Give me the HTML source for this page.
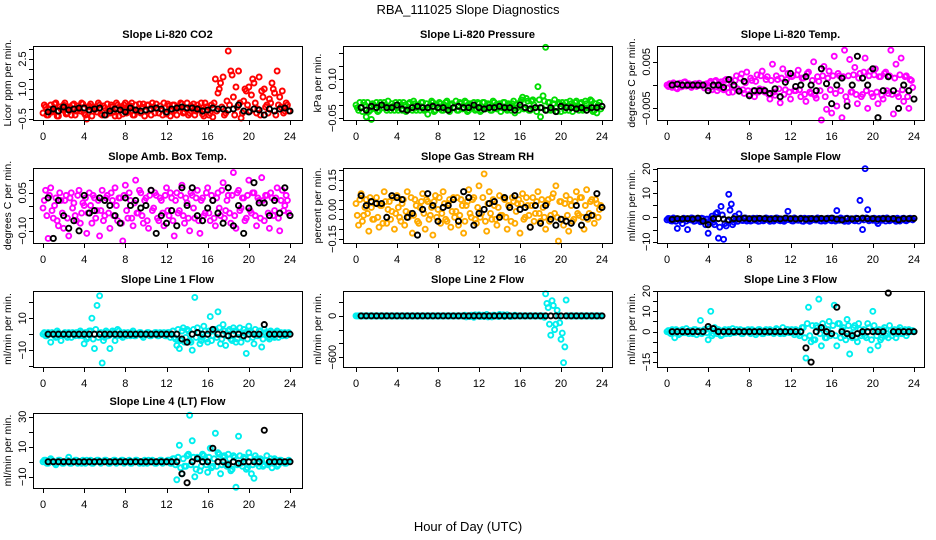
<!DOCTYPE html>
<html><head><meta charset="utf-8"><style>
body{margin:0;background:#fff}
svg{display:block;font-family:"Liberation Sans",sans-serif}
</style></head><body>
<svg id="fig" width="936" height="540" xmlns="http://www.w3.org/2000/svg">
<rect width="936" height="540" fill="#fff"/>
<text x="468" y="14" font-size="13" text-anchor="middle">RBA_111025  Slope Diagnostics</text>
<text x="468" y="531" font-size="13" text-anchor="middle">Hour of Day (UTC)</text>
</svg>
<script>
const xTicks=[0,4,8,12,16,20,24];
const co2Colored=[-0.2,0.1,-0.3,0.2,-0.1,0.3,-0.35,0.0,0.2,-0.25,0.1,-0.3,0.25,-0.1,0.0,0.3,
-0.2,-0.5,0.15,-0.35,0.1,-0.15,0.2,-0.3,0.05,0.25,-0.2,0.1,-0.35,0.2,0.0,-0.25,
0.3,-0.1,0.15,-0.3,0.2,0.0,-0.2,0.25,-0.1,0.2,-0.3,0.1,0.25,-0.2,0.0,0.3,
-0.25,0.15,-0.1,0.2,-0.3,0.05,0.25,-0.15,0.3,-0.2,0.1,-0.3,0.2,0.0,-0.25,0.3,
0.1,-0.2,-0.4,1.5,0.8,1.3,1.6,-0.2,2.9,1.9,0.6,1.1,1.9,-0.45,0.4,0.9,
1.1,0.7,1.3,-0.2,1.6,0.9,1.0,0.2,0.5,1.3,0.8,1.9,0.6,0.9,-0.1,0.2];
const co2Colored2=[0.2,-0.3,0.0,-0.15,0.25,-0.35,0.1,-0.05,0.3,-0.2,0.05,0.2,-0.3,0.15,-0.1,0.25,
-0.3,0.1,0.25,-0.1,0.0,0.3,-0.25,0.15,-0.3,0.0,0.2,-0.15,0.3,-0.35,0.1,0.2,
-0.2,0.05,0.3,-0.3,-0.1,0.25,0.1,-0.35,0.2,-0.05,0.3,-0.2,0.0,0.15,-0.3,0.05,
0.25,-0.35,0.2,-0.05,0.1,0.3,-0.2,0.0,-0.3,0.15,0.25,-0.1,0.05,0.3,-0.35,0.1,
-0.3,0.2,0.3,-0.1,1.0,0.1,-0.3,0.4,0.2,1.7,-0.3,0.1,0.3,-0.2,1.0,0.2,
-0.1,1.5,0.3,0.0,-0.3,0.6,0.1,-0.2,0.3,1.0,-0.3,0.2,0.1,-0.2,0.3,-0.1];
const co2Black=[-0.15,0.0,-0.1,0.1,-0.05,0.0,0.05,0.05,-0.05,0.0,0.05,-0.3,-0.1,0.0,-0.05,-0.15,
0.05,-0.05,-0.1,-0.05,0.0,0.05,0.0,-0.15,0.0,0.05,0.1,0.05,0.05,0.0,-0.1,-0.05,
0.05,0.0,0.0,-0.05,0.0,0.2,-0.1,-0.15,0.0,-0.05,-0.3,0.0,-0.1,0.0,0.05,-0.1];
const presColored=[0,-0.02,-0.01,0.01,-0.045,-0.025,-0.055,0,0.01,-0.02,0,0.01,-0.02,-0.01,0.005,-0.02,
-0.01,0.01,-0.02,0,-0.015,0.01,-0.02,0.005,-0.01,-0.02,0.01,-0.015,-0.035,0,0.01,-0.02,
-0.01,0.005,-0.02,0.01,-0.015,0,-0.01,0.015,-0.02,0.005,-0.01,0.01,-0.02,0,0.01,-0.015,
0.005,-0.02,0.01,-0.01,0,-0.02,0.01,-0.015,0.005,-0.01,0.01,-0.02,0,0.005,-0.03,-0.01,
0.01,0.03,-0.01,0.015,-0.02,0.02,-0.01,0.07,-0.045,0.035,0.22,0.01,-0.02,0.005,-0.01,0.01,
-0.025,0,0.01,-0.02,0.005,-0.01,0.015,-0.02,0.01,-0.015,0.005,-0.01,0.015,-0.02,-0.03,0.01];
const presColored2=[-0.01,0.01,-0.025,0,0.01,-0.02,0.005,-0.015,-0.025,0.01,-0.01,0,0.015,-0.02,-0.005,0.01,
-0.02,0,0.01,-0.025,0.005,-0.01,0.015,-0.02,0,0.01,-0.02,0.005,-0.01,0.015,-0.025,0,
0.01,-0.02,0,0.015,-0.025,0.005,-0.01,-0.02,0.01,-0.015,0.015,-0.025,0.005,-0.01,-0.02,0.01,
-0.025,0.01,-0.015,0.005,-0.02,0.015,-0.01,0,-0.025,0.01,-0.015,0.005,-0.02,0.015,0,-0.02,
0.02,-0.015,0.025,-0.02,0.015,0,-0.025,0.02,-0.01,0.015,-0.02,0.01,-0.015,0.02,-0.025,0.005,
0.01,-0.02,-0.005,0.015,-0.025,0.01,-0.01,0.005,-0.02,0.015,-0.01,0.02,-0.025,0.005,0,-0.015];
const presBlack=[-0.01,-0.02,-0.005,-0.01,0.0,-0.01,-0.01,0.0,-0.015,-0.02,-0.01,-0.005,-0.01,-0.01,-0.005,-0.01,
-0.01,-0.02,-0.01,-0.005,-0.01,-0.01,0.0,-0.01,-0.015,-0.01,-0.01,-0.005,-0.01,-0.01,-0.02,0.0,
-0.01,-0.015,-0.01,-0.01,-0.02,-0.01,-0.025,-0.005,-0.01,-0.01,-0.015,-0.01,-0.02,-0.01,-0.01,-0.005];
const tempColored=[0,0.0003,-0.0005,0.0002,-0.0008,0.0004,-0.0003,0.0007,0,-0.0002,0,0.0003,0,-0.0001,0,0.0002,
-0.0006,0.0008,-0.0004,0.0010,-0.0005,0.0007,-0.0010,0.0012,-0.0016,0.0006,-0.0003,0.0020,-0.0012,0.0024,-0.0018,0.0028,
-0.0020,0.0010,-0.0025,0.0022,-0.0008,0.0030,-0.0015,0.0018,-0.0030,0.0045,-0.0022,0.0012,-0.0038,0.0035,-0.0010,0.0025,
-0.0030,0.0020,-0.0012,0.0032,-0.0025,0.0015,-0.0035,0.0028,-0.0018,0.0050,-0.0028,0.0008,-0.0075,0.0040,-0.0052,0.0030,
-0.0060,0.0062,-0.0045,0.0020,-0.0070,0.0075,-0.0035,0.0055,-0.0015,0.0038,-0.0040,0.0025,-0.0020,0.0058,-0.0050,0.0030,
-0.0025,0.0035,-0.0040,0.0018,-0.0030,0.0028,-0.0018,0.0075,-0.0062,0.0045,-0.0025,0.0058,-0.0035,0.0020,-0.0050,0.0010];
const tempColored2=[-0.0003,0,0.0005,-0.0006,0.0001,-0.0004,0.0006,-0.0002,0.0003,-0.0005,0.0002,-0.0003,0.0004,0,-0.0006,0.0003,
0.0005,-0.0010,0.0008,-0.0012,0.0003,-0.0008,0.0010,-0.0006,0.0012,-0.0015,0.0010,-0.0008,0.0015,-0.0010,0.0005,-0.0012,
0.0015,-0.0012,0.0008,-0.0015,0.0020,-0.0010,0.0012,-0.0020,0.0010,-0.0015,0.0020,-0.0008,0.0015,-0.0020,0.0012,-0.0015,
0.0018,-0.0012,0.0022,-0.0010,0.0015,-0.0020,0.0025,-0.0015,0.0010,-0.0022,0.0018,-0.0012,0.0020,-0.0025,0.0015,-0.0010,
0.0020,-0.0018,0.0025,-0.0012,0.0018,-0.0025,0.0020,-0.0015,0.0022,-0.0020,0.0015,-0.0025,0.0028,-0.0012,0.0020,-0.0018,
0.0022,-0.0015,0.0018,-0.0022,0.0025,-0.0012,0.0020,-0.0020,0.0015,-0.0018,0.0022,-0.0010,0.0018,-0.0025,0.0012,-0.0005];
const tempBlack=[0,0.0002,0,0,0,0,0,-0.0012,0,0,-0.0005,0.0012,0,-0.0013,0.0008,-0.0023,
-0.0012,-0.0012,-0.0012,-0.0018,-0.0008,-0.0025,0.0006,0.0025,-0.0003,0.0,0.0018,0.0,-0.0012,0.0035,0.0003,-0.0040,
0.0,0.0015,-0.0045,0.0,0.0062,0.0015,0.0,0.0035,-0.0070,-0.0012,0.0018,-0.0012,-0.0050,0.0,-0.0012,-0.0030];
const ambColored=[-0.01,0.06,-0.13,0.07,-0.05,0.03,-0.08,0.02,-0.09,0.04,-0.12,0.05,0.01,-0.06,0.06,-0.03,
0.0,-0.11,0.05,-0.07,0.03,-0.02,-0.12,0.06,-0.04,0.04,-0.09,0.02,0.07,-0.06,0.03,-0.14,
0.08,-0.05,0.02,-0.08,0.10,-0.03,0.05,-0.07,0.03,-0.09,0.06,-0.01,0.04,-0.06,0.02,-0.08,
0.07,-0.04,0.03,-0.12,0.05,-0.02,0.08,-0.07,0.01,-0.10,0.04,-0.05,0.06,-0.11,0.03,-0.03,
0.07,-0.06,0.02,-0.08,0.05,-0.04,0.09,-0.02,0.04,-0.07,0.13,-0.09,0.06,-0.01,0.03,-0.05,
0.10,-0.03,0.05,-0.08,0.02,0.11,-0.06,0.04,-0.09,0.03,-0.02,0.07,-0.10,0.06,0.0,0.02];
const ambColored2=[0.02,-0.04,0.04,-0.02,0.0,-0.06,0.05,-0.03,0.02,-0.05,0.03,-0.01,-0.04,0.04,-0.07,0.01,
0.03,-0.03,0.0,0.04,-0.05,0.02,-0.02,-0.06,0.03,-0.03,0.05,-0.04,0.0,0.03,-0.07,0.04,
-0.02,0.05,-0.05,0.01,-0.03,0.06,-0.04,0.02,-0.06,0.04,-0.02,0.05,-0.05,0.03,-0.03,0.04,
-0.02,0.05,-0.06,0.02,-0.03,0.04,-0.04,0.03,-0.05,0.05,-0.01,0.03,-0.06,0.02,-0.04,0.05,
-0.03,0.04,-0.05,0.03,-0.01,0.06,-0.05,0.02,-0.03,0.04,-0.04,0.05,-0.02,0.03,-0.06,0.04,
-0.02,0.05,-0.04,0.03,-0.05,0.02,0.04,-0.03,0.05,-0.04,0.03,-0.05,0.02,-0.02,0.04,-0.03];
const ambBlack=[0.03,-0.13,0.02,-0.04,-0.09,-0.06,-0.1,0.04,-0.03,-0.02,0.03,0.02,0.0,-0.04,-0.07,0.03,
0.0,0.02,-0.01,0.0,0.06,-0.11,-0.04,-0.07,-0.02,-0.08,0.07,0.0,0.07,-0.04,-0.06,-0.01,
0.02,-0.03,-0.07,0.07,-0.08,0.0,-0.11,-0.01,0.09,0.01,0.01,-0.04,0.02,-0.03,0.07,-0.04];
const rhColored=[0.03,-0.08,0.08,-0.03,0.05,-0.11,0.01,-0.05,0.06,-0.09,0.02,0.09,-0.07,0.04,-0.01,-0.10,
0.07,-0.04,0.03,-0.08,0.09,-0.02,-0.12,0.05,-0.06,0.01,0.08,-0.10,0.04,-0.03,-0.13,0.07,
0.0,-0.07,0.09,-0.05,0.03,-0.09,0.06,-0.01,-0.08,0.05,-0.12,0.02,0.10,-0.04,0.06,-0.07,
0.12,-0.02,0.18,-0.11,0.09,-0.05,0.02,-0.08,0.07,-0.03,0.05,-0.10,0.01,0.06,-0.07,0.03,
-0.12,0.08,-0.04,0.02,-0.09,0.06,-0.02,0.09,-0.06,0.01,-0.10,0.05,-0.03,0.08,0.12,-0.16,
0.04,-0.08,0.07,-0.11,0.02,-0.05,0.09,-0.03,0.06,-0.10,0.10,-0.02,0.05,-0.07,0.03,0.0];
const rhColored2=[-0.03,0.05,-0.06,0.01,-0.02,0.06,-0.05,0.03,-0.04,0.02,-0.07,0.04,0.0,-0.05,0.06,-0.02,
0.01,-0.06,0.05,-0.01,-0.04,0.06,-0.03,0.02,-0.07,0.04,-0.02,0.05,-0.05,0.01,0.04,-0.04,
0.06,-0.02,0.03,-0.06,0.05,-0.01,-0.04,0.06,-0.03,0.02,-0.06,0.04,-0.02,0.05,-0.05,0.01,
-0.04,0.06,-0.06,0.03,-0.02,0.05,-0.05,0.01,-0.03,0.06,-0.04,0.02,-0.06,0.04,-0.01,0.05,
0.03,-0.05,0.06,-0.03,0.02,-0.06,0.04,-0.02,0.05,-0.04,0.03,-0.06,0.06,-0.02,-0.04,0.04,
-0.05,0.03,-0.03,0.05,-0.06,0.04,-0.02,0.06,-0.04,0.02,-0.05,0.04,-0.03,0.05,-0.04,0.02];
const rhBlack=[0.07,0.02,0.04,0.03,0.03,-0.04,0.07,0.06,0.05,-0.04,-0.02,-0.13,0.0,0.08,0.02,-0.06,
0.01,0.02,0.05,-0.06,0.09,0.06,-0.08,-0.02,0.0,0.03,0.04,-0.04,0.06,0.01,0.07,0.0,
0.01,-0.09,0.02,-0.07,0.02,-0.05,-0.08,-0.05,-0.06,-0.07,0.02,-0.08,-0.04,-0.03,0.08,0.01];
const flowColored=[-1,-0.5,-1.5,-0.8,-4.5,-1.2,-2.5,-0.6,-5,-1,-0.3,-1.4,-0.7,-1.8,-0.5,-3,
-6.5,-0.5,-2,1.5,-8.5,4.5,-9,-3.5,9.5,5.5,-2,-0.8,1.5,-1.2,-0.5,-1.5,
-0.6,-1.3,-0.8,-0.3,-1.5,-0.7,-1.1,-0.4,-1.6,-0.6,-1,-0.3,-1.4,-0.8,-1.2,2.5,
-0.8,-1.5,-0.5,-1.2,-0.3,-1.6,-0.9,-0.4,-1.3,-0.7,-1.1,-0.5,-1.5,-0.6,-1.0,-0.4,
-1.4,-0.8,2.8,-1.2,-0.5,-1.6,-0.3,-1.0,-0.6,-1.4,-0.4,7,-5,20,3.2,-0.8,
-1.2,-0.5,-2.5,-0.9,-0.3,-1.5,-0.7,-1.1,-0.4,-1.6,-0.6,-1.0,-0.3,-1.4,-0.8,-0.5];
const flowColored2=[-0.4,-1.4,-0.2,-1.6,-0.6,-1.0,-0.3,-1.5,-0.8,-0.2,-1.6,-0.5,-1.2,-0.3,-1.5,-0.7,
-2,0.5,-3,2,-4,1,-2.5,-1.5,3,-3,0.5,-1.6,-0.4,-1.3,-0.2,-0.9,
-1.5,-0.3,-1.2,-1.6,-0.5,-1.4,-0.2,-1.0,-0.4,-1.5,-0.2,-1.2,-0.6,-1.6,-0.3,-0.9,
-1.4,-0.2,-1.1,-0.6,-1.5,-0.3,-1.2,-1.6,-0.4,-1.0,-0.2,-1.4,-0.7,-1.5,-0.3,-1.2,
-0.3,-1.5,-0.6,-0.2,-1.3,-0.4,-1.6,-0.5,-1.2,-0.3,-1.5,-0.6,-1.0,-0.2,-1.4,-0.5,
-0.3,-1.6,-0.4,-1.2,-0.6,-0.2,-1.4,-0.5,-1.0,-0.3,-1.5,-0.4,-1.2,-0.6,-0.3,-1.0];
const flowBlack=[-0.8,-0.5,-0.6,-0.5,-0.7,-0.3,-1.5,-3,-0.5,-0.5,-0.7,-1.0,-0.5,-0.6,-0.3,-0.5,
-0.6,-0.4,-0.5,-0.7,-0.5,-0.6,-0.3,-0.5,-0.6,-0.5,-0.7,-0.5,-0.6,-0.4,-0.5,-0.3,
-0.7,-1.0,-0.5,-0.6,-0.5,-0.3,-0.5,-0.5,-0.7,-0.5,-0.6,-0.5,-1.0,-0.5,-0.5,-0.4];
const line1Colored=[0,-1,1,-5,0,-2,1,-4,0,-1,1,-2,0,1,-1,1,
-6,-3,2,10,-9,18,24,-18,-2,1,-9,2,-4,3,-1,-2,
0,1,-1,2,-1,0,1,-2,0,1,-1,0,1,-1,0,1,
-1,1,0,-2,-7,-9,2,-5,3,-4,-10,23,4,-6,-2,2,
-5,11,-1,3,14,-6,6,-7,2,-3,4,-5,1,-5,3,-12,
5,1,-6,-1,2,-8,3,-1,-3,1,-2,2,0,-1,1,0];
const line1Colored2=[1,-1,0,1,-1,2,-1,0,1,-2,0,1,-1,0,2,-1,
1,-2,2,-3,3,-2,1,-4,2,-1,0,1,-1,2,-1,1,
-1,0,1,-1,0,1,-1,0,1,-1,0,1,-1,1,0,-1,
1,-2,2,-3,3,-4,4,-2,2,-5,3,-2,1,-4,5,-3,
2,-4,3,-2,4,-3,2,-1,3,-4,2,-3,4,-2,1,-3,
2,-2,3,-1,2,-3,1,-2,2,-1,1,-2,1,0,-1,1];
const line1Black=[0,0,0,0,0,0,0,0,0,0,0,0,0,0,0,0,0,0,0,0,0,0,0,0,0,0,-3,-5,0,1,0,0,3,0,0,-1,0,0,-1,0,0,0,6,0,0,0,0,0];
const line2Colored=[0,0,0,0,0,0,0,0,0,0,0,0,0,0,0,0,
0,0,0,0,0,0,0,0,0,0,0,0,0,0,0,0,
0,0,0,0,0,0,0,0,0,0,0,-15,0,10,-20,0,
15,0,-10,20,0,-15,10,0,20,0,-10,15,0,0,10,0,
0,0,0,0,0,0,0,0,0,0,320,120,-280,150,-120,0,
-340,-680,230,0,0,0,0,0,0,0,0,0,0,0,0,0];
const line2Colored2=[0,0,0,0,0,0,0,0,0,0,0,0,0,0,0,0,
0,0,0,0,0,0,0,0,0,0,0,0,0,0,0,0,
0,0,0,0,0,0,0,0,0,0,10,0,-10,0,15,0,
-10,10,0,-15,0,10,0,-10,0,15,0,0,-10,0,0,0,
0,0,0,0,0,0,0,0,0,-20,180,-120,220,-200,80,-100,
-250,-450,0,0,0,0,0,0,0,0,0,0,0,0,0,0];
const line2Black=[0,0,0,0,0,0,0,0,0,0,0,0,0,0,0,0,0,0,0,0,0,0,0,0,0,0,0,0,0,0,0,0,0,0,0,0,0,0,0,0,0,0,0,0,0,0,0,0];
const line3Colored=[0,-0.5,1,-3,0.5,-1,1,-0.5,0,0.5,-1,1,0,5.5,-0.5,1,
-4,10,-1,0.5,1,-2,0.5,-1,1,0,-0.5,1,0,-1,0.5,0,
-0.5,1,0,-0.5,1,-1,0.5,0,1,-0.5,0,1,-1,2,-0.5,1,
0,-0.5,1,-1,0,2,-13,12,-5,-4,3,16,-7,2,-3,5,
-1,13,-7,4,1,-2,6,-11,-3,3,-5,1,-1,-2,4,-9,
10,0,-7,-4,1,-2,-3,0.5,-0.5,-3,1,-1,0.5,-2,1,0];
const line3Colored2=[0.5,-1,0,1,-1.5,0.5,-0.5,1.5,-1,0,1,-1.5,0.5,-1,1,-0.5,
1.5,-2,2,-1,0.5,-1.5,1,0,-1,1.5,-0.5,0,1,-1,0,1,
-1,0.5,-1.5,1,0,-1,1,-0.5,0.5,-1,1.5,-0.5,0,-1,1,-0.5,
1,-1.5,0.5,-2,2,-3,4,-2,3,-4,2,-1,4,-3,1,-2,
3,-2,4,-3,2,-4,3,-1,2,-3,4,-2,1,-3,2,-4,
3,-2,1,-3,2,-1,3,-2,1,-1,2,-1,1,-0.5,0,0.5];
const line3Black=[0,0,0,0,0,0,0,2.5,1.5,0,0,0,0,0,0,0,0,0,0,0,0,0,0,0,0,0,-8,-15,0,2,0,-1,12,0,-1,-2,-1,0,0,0,0,0,19,0,0,0,0,0];
const line4Colored=[0,1,-1,2,0,-2,1,0,-1,0,3,-1,0,1,0,-1,
0,1,0,-1,0,1,0,0,1,0,-1,0,1,0,0,1,
0,0,-1,0,1,0,0,-1,0,1,0,0,-1,0,1,0,
0,1,-1,2,-12,11,-8,-3,4,31,14,-10,3,-6,5,2,
-7,9,-3,19,6,-8,3,-2,5,-6,4,-17,17,-1,3,-5,
6,-8,-11,2,-3,1,-2,4,-1,-4,2,-3,1,0,-1,0];
const line4Colored2=[1,-1,0,1,-1,0,1,-1,0,1,-1,0,1,-1,0,1,
-1,0,1,-1,0,1,-1,0,1,-1,0,1,-1,0,1,-1,
0,1,-1,0,1,-1,0,1,-1,0,1,-1,0,1,-1,0,
1,-1,2,-2,3,-4,2,-3,5,-2,3,-5,2,-3,4,-2,
3,-4,2,-3,5,-2,4,-3,2,-5,3,-2,4,-3,2,-4,
3,-2,4,-1,2,-3,1,-2,2,-1,1,-2,1,0,-1,1];
const line4Black=[0,0,0,0,0,0,0,0,0,0,0,0,0,0,0,0,0,0,0,0,0,0,0,0,0,0,-8,-14,0,2,0,0,9,0,0,-2,0,-1,0,0,0,0,21,0,0,0,0,0];

const NS='http://www.w3.org/2000/svg';
const svg=document.getElementById('fig');
function mk(tag,attrs,parent){const e=document.createElementNS(NS,tag);for(const k in attrs)e.setAttribute(k,attrs[k]);(parent||svg).appendChild(e);return e;}
const colX=[[33,302,43,290],[343,612,356,602],[657,924,667,914]];
const rowY=[[46,120],[168,243],[291,367],[413,488]];

function panel(key,col,row,title,ylab,ymin,ymax,yticks,ylabels,color,colored,colored2,black){
  const [bx0,bx1,t0x,t24x]=colX[col];const [by0,by1]=rowY[row];
  const g=mk('g',{});
  
  
  const xs=h=>t0x+(h/24)*(t24x-t0x);
  const ys=v=>by1-(v-ymin)/(ymax-ymin)*(by1-by0);
  const tt=mk('text',{x:(bx0+bx1)/2,y:by0-8,'font-size':11,'font-weight':'bold','text-anchor':'middle'},g);
  tt.textContent=title;
  
  
  const cg=mk('g',{fill:'none',stroke:color,'stroke-width':1.9},g);
  
  
  colored.forEach((v,i)=>{const h=i*0.25;
    const c=mk('circle',{cx:xs(h),cy:ys(v),r:2.5},cg);
    
    });
  colored2.forEach((v,i)=>{const h=i*0.25+0.125;
    const c=mk('circle',{cx:xs(h),cy:ys(v),r:2.5},cg);
    
    });
  const kg=mk('g',{fill:'none',stroke:'#000','stroke-width':1.9},g);
  
  
  black.forEach((v,i)=>{const h=0.5+i*0.5;
    const c=mk('circle',{cx:xs(h),cy:ys(v),r:2.6},kg);
    
    });
  const box=mk('rect',{x:bx0+0.5,y:by0+0.5,width:bx1-bx0,height:by1-by0,fill:'none',stroke:'#000','stroke-width':1},g);
  
  
  const ax=mk('g',{},g);
  
  
  xTicks.forEach(t=>{const x=Math.round(xs(t))+0.5;mk('line',{x1:x,x2:x,y1:by1+1,y2:by1+5,stroke:'#000'},ax);
    const l=mk('text',{x:xs(t),y:by1+20,'font-size':11,'text-anchor':'middle'},ax);l.textContent=t;});
  const ay=mk('g',{},g);
  
  
  yticks.forEach(v=>{const y=Math.round(ys(v))+0.5;mk('line',{x1:bx0-4,x2:bx0,y1:y,y2:y,stroke:'#000'},ay);});
  ylabels.forEach(v=>{const x=bx0-7,y=ys(v);
    const l=mk('text',{x:x,y:y,'font-size':11,'text-anchor':'middle',transform:`rotate(-90 ${x} ${y})`},ay);l.textContent=String(v).replace('-','\u2212');});
  const yl=mk('text',{x:bx0-22,y:(by0+by1)/2,'font-size':10.5,'text-anchor':'middle',transform:`rotate(-90 ${bx0-22} ${(by0+by1)/2})`},g);
  yl.textContent=ylab;
  
  
}
panel('co2',0,0,'Slope Li-820 CO2','Licor ppm per min.',-0.55,3.15,[-0.5,0,0.5,1,1.5,2,2.5,3],['-0.5','1.0','2.5'],'#ff0000',co2Colored,co2Colored2,co2Black);
panel('pressure',1,0,'Slope Li-820 Pressure','kPa per min.',-0.057,0.225,[-0.05,0,0.05,0.1,0.15,0.2],['-0.05','0.10'],'#00dd00',presColored,presColored2,presBlack);
panel('li820-temp',2,0,'Slope Li-820 Temp.','degrees C per min.',-0.0075,0.0084,[-0.005,0,0.005],['-0.005','0.005'],'#ff00ff',tempColored,tempColored2,tempBlack);
panel('amb-box-temp',0,1,'Slope Amb. Box Temp.','degrees C per min.',-0.148,0.148,[-0.1,-0.05,0,0.05,0.1],['-0.10','0.05'],'#ff00ff',ambColored,ambColored2,ambBlack);
panel('gas-rh',1,1,'Slope Gas Stream RH','percent per min.',-0.17,0.21,[-0.15,-0.1,-0.05,0,0.05,0.1,0.15,0.2],['-0.15','0.00','0.15'],'#ffaa00',rhColored,rhColored2,rhBlack);
panel('sample-flow',2,1,'Slope Sample Flow','ml/min per min.',-10.5,20.3,[-10,-5,0,5,10,15,20],['-10','0','10','20'],'#0000ff',flowColored,flowColored2,flowBlack);
panel('line1-flow',0,2,'Slope Line 1 Flow','ml/min per min.',-20.5,27,[-20,-10,0,10,20],['-10','10'],'#00eeee',line1Colored,line1Colored2,line1Black);
panel('line2-flow',1,2,'Slope Line 2 Flow','ml/min per min.',-742,361,[-600,-400,-200,0,200],['-600','0'],'#00eeee',line2Colored,line2Colored2,line2Black);
panel('line3-flow',2,2,'Slope Line 3 Flow','ml/min per min.',-17.4,20,[-15,-10,-5,0,5,10,15,20],['-15','0','10','20'],'#00eeee',line3Colored,line3Colored2,line3Black);
panel('line4-flow',0,3,'Slope Line 4 (LT) Flow','ml/min per min.',-17.5,32.5,[-10,0,10,20,30],['-10','10','30'],'#00eeee',line4Colored,line4Colored2,line4Black);
</script>
</body></html>
